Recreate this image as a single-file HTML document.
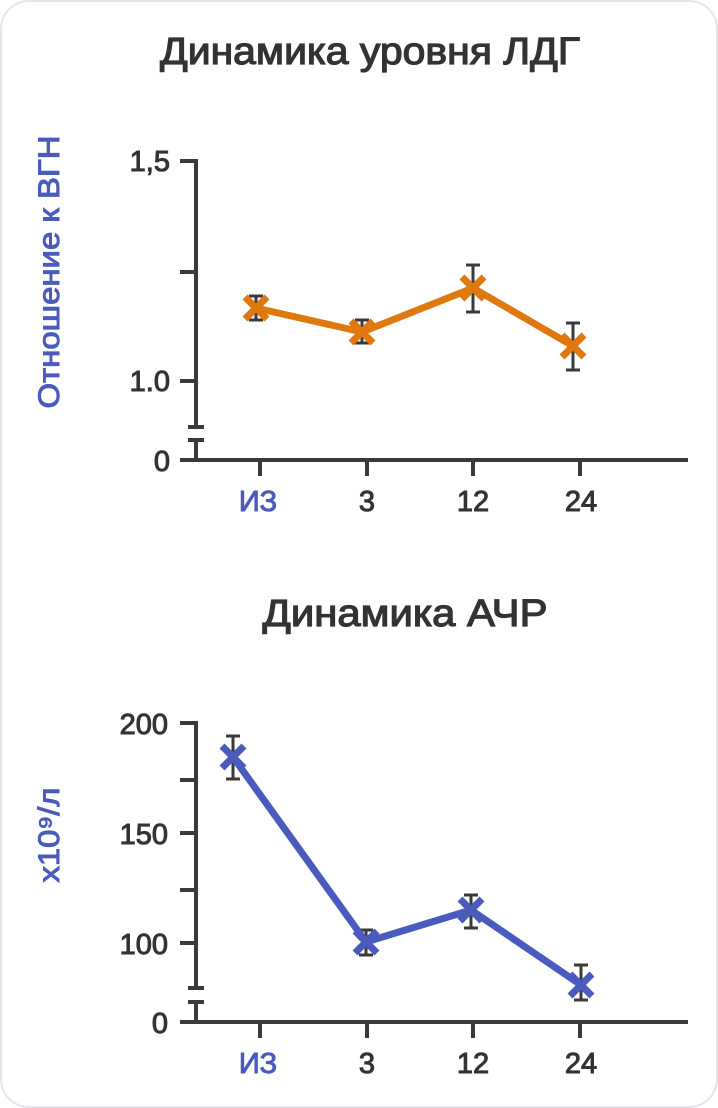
<!DOCTYPE html>
<html><head><meta charset="utf-8"><style>
html,body{margin:0;padding:0;background:#fff;}
svg{display:block;font-family:"Liberation Sans",sans-serif;}
</style></head><body>
<svg width="718" height="1108" viewBox="0 0 718 1108">
<rect x="1" y="1" width="716" height="1106" rx="28" fill="#fff" stroke="#e4e4ea" stroke-width="2"/>
<g fill="#333" stroke="#333" stroke-width="1.2" font-size="38" text-anchor="middle">
<text x="370" y="64" textLength="420" lengthAdjust="spacingAndGlyphs">Динамика уровня ЛДГ</text>
<text x="405" y="626" textLength="285" lengthAdjust="spacingAndGlyphs">Динамика АЧР</text>
</g>
<g fill="#4a5bbd" stroke="#4a5bbd" stroke-width="1" font-size="30" text-anchor="middle">
<text transform="translate(59,272) rotate(-90)" textLength="273" lengthAdjust="spacingAndGlyphs">Отношение к ВГН</text>
<text transform="translate(59,835) rotate(-90)" textLength="95" lengthAdjust="spacingAndGlyphs">x10⁹/л</text>
</g>
<g stroke="#3a3a3a" stroke-width="4" fill="none">
<path d="M180 161H196V427M180 272H196M180 381H196M188 427H204M188 440H204M196 440V460"/>
<path d="M180 460H688M260 460V476M367 460V476M473 460V476M580 460V476"/>
</g>
<g font-size="29" fill="#333" stroke="#333" stroke-width="1" text-anchor="end">
<text x="170" y="171">1,5</text><text x="170" y="391">1.0</text><text x="170" y="471">0</text>
</g>
<g font-size="29" fill="#333" stroke="#333" stroke-width="1" text-anchor="middle">
<text x="258" y="511" fill="#4a5bbd" stroke="#4a5bbd">ИЗ</text><text x="367" y="511">3</text><text x="473" y="511">12</text><text x="581" y="511">24</text>
</g>
<g stroke="#3a3a3a" stroke-width="3">
<path d="M256 296V320M249 296H263M249 320H263"/>
<path d="M362 320V343M355 320H369M355 343H369"/>
<path d="M473 265V312M466 265H480M466 312H480"/>
<path d="M573 323V370M566 323H580M566 370H580"/>
</g>
<polyline points="256,308 362,332 473,288 573,346" fill="none" stroke="#e07810" stroke-width="7" stroke-linejoin="round"/>
<g stroke="#e07810" stroke-width="7">
<path d="M245 297L267 319M267 297L245 319"/>
<path d="M351 321L373 343M373 321L351 343"/>
<path d="M462 277L484 299M484 277L462 299"/>
<path d="M562 335L584 357M584 335L562 357"/>
</g>
<g stroke="#3a3a3a" stroke-width="4" fill="none">
<path d="M180 723H196V988M180 780H196M180 833H196M180 890H196M180 943H196M188 988H204M188 1002H204M196 1002V1022"/>
<path d="M180 1022H688M260 1022V1038M367 1022V1038M473 1022V1038M580 1022V1038"/>
</g>
<g font-size="29" fill="#333" stroke="#333" stroke-width="1" text-anchor="end">
<text x="168" y="734">200</text><text x="168" y="844">150</text><text x="168" y="954">100</text><text x="168" y="1033">0</text>
</g>
<g font-size="29" fill="#333" stroke="#333" stroke-width="1" text-anchor="middle">
<text x="258" y="1073" fill="#4a5bbd" stroke="#4a5bbd">ИЗ</text><text x="367" y="1073">3</text><text x="473" y="1073">12</text><text x="581" y="1073">24</text>
</g>
<g stroke="#3a3a3a" stroke-width="3">
<path d="M233 736V779M226 736H240M226 779H240"/>
<path d="M366 930V955M359 930H373M359 955H373"/>
<path d="M471 895V928M464 895H478M464 928H478"/>
<path d="M581 965V1000M574 965H588M574 1000H588"/>
</g>
<polyline points="233,757 366,942 471,910 581,985" fill="none" stroke="#4a5bbd" stroke-width="7" stroke-linejoin="round"/>
<g stroke="#4a5bbd" stroke-width="7">
<path d="M222 746L244 768M244 746L222 768"/>
<path d="M355 931L377 953M377 931L355 953"/>
<path d="M460 899L482 921M482 899L460 921"/>
<path d="M570 974L592 996M592 974L570 996"/>
</g>
</svg>
</body></html>
